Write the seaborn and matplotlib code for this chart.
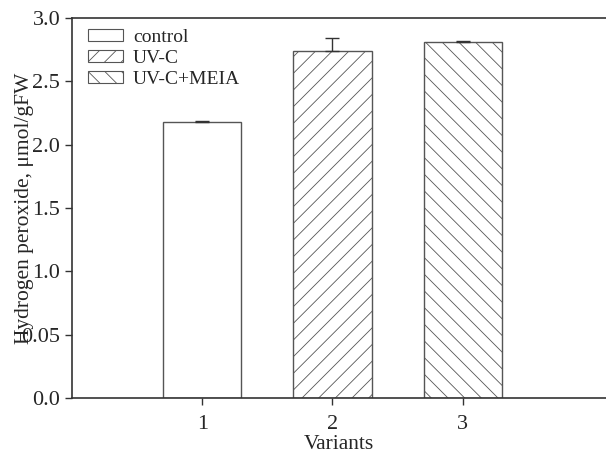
import matplotlib
matplotlib.use("Agg")
import matplotlib.pyplot as plt
from matplotlib.patches import Patch
import pandas as pd
import seaborn as sns

# Data
variants = [1, 2, 3]
labels = ["control", "UV-C", "UV-C+MEIA"]
values = [2.18, 2.74, 2.81]
errors = [0.01, 0.10, 0.01]
hatches = ["", "//", "\\\\"]
yticks = [0.0, 0.5, 1.0, 1.5, 2.0, 2.5, 3.0]
ytick_labels = ["0.0", "0.05", "1.0", "1.5", "2.0", "2.5", "3.0"]

sns.set_style("ticks")
plt.rcParams["font.family"] = ["Liberation Serif", "DejaVu Serif"]
plt.rcParams["hatch.linewidth"] = 0.6
plt.rcParams["hatch.color"] = "#444444"

df = pd.DataFrame({"variant": variants, "value": values, "label": labels})

fig = plt.figure(figsize=(6.06, 4.55), dpi=100)
ax = fig.add_axes([72 / 606, 57 / 455, 534 / 606, 380 / 455])

sns.barplot(data=df, x="variant", y="value", native_scale=True, width=0.6,
            color="white", edgecolor="#555555", linewidth=1.0, ax=ax)

for patch, h in zip(ax.patches, hatches):
    patch.set_hatch(h)
    patch.set_facecolor("white")

ax.errorbar(variants, values, yerr=[[0, 0, 0], errors], fmt="none",
            ecolor="#333333", elinewidth=1.0, capsize=5, capthick=1.0)

ax.set_xlim(0, 4.1)
ax.set_ylim(0, 3.0)
ax.set_xticks(variants)
ax.set_xticklabels([str(v) for v in variants])
ax.set_yticks(yticks)
ax.set_yticklabels(ytick_labels)
ax.tick_params(axis="both", direction="out", length=5, width=1, labelsize=16,
               color="#333333")
ax.tick_params(axis="y", pad=3.5)
ax.tick_params(axis="x", pad=7)
ax.set_xlabel("Variants", fontsize=15.5, labelpad=1)
ax.set_ylabel("Hydrogen peroxide, \u03bcmol/gFW", fontsize=15.5)
ax.yaxis.set_label_coords(-0.0715, 0.5)

for side in ["left", "bottom", "top"]:
    ax.spines[side].set_color("#333333")
    ax.spines[side].set_linewidth(1.2)
ax.spines["right"].set_visible(False)

handles = [Patch(facecolor="white", edgecolor="#555555", hatch=h, linewidth=0.8)
           for h in hatches]
ax.legend(handles, labels, loc="upper left", bbox_to_anchor=(0.01, 1.0),
          frameon=False, fontsize=14, handlelength=1.8, handleheight=0.6,
          handletextpad=0.5, labelspacing=0.2, borderaxespad=0.15)

fig.savefig("out.png", dpi=100)
